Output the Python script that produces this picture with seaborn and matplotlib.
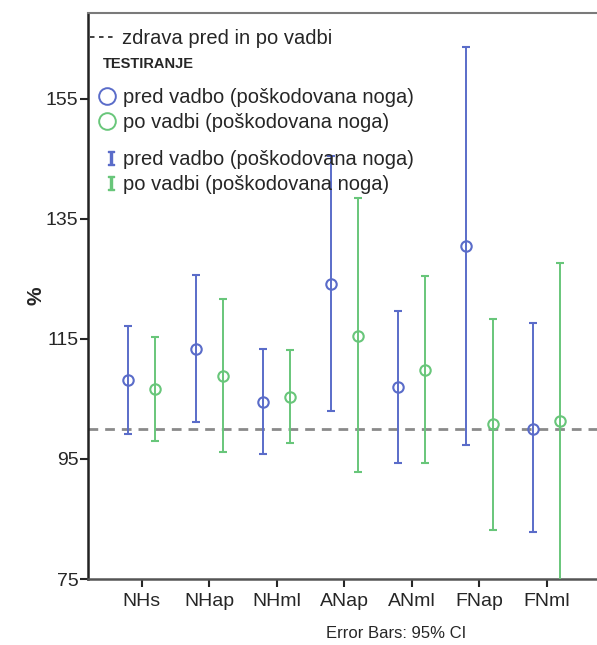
import numpy as np
import seaborn as sns
import matplotlib.pyplot as plt
from matplotlib.lines import Line2D

# means and 95% CI bounds
categories = ['NHs', 'NHap', 'NHml', 'ANap', 'ANml', 'FNap', 'FNml']

pred_mean = [108.2, 113.3, 104.5, 124.2, 107.0, 130.4, 100.0]
pred_low = [99.2, 101.1, 95.8, 103.0, 94.3, 97.4, 82.8]
pred_high = [117.2, 125.6, 113.3, 145.5, 119.7, 163.6, 117.6]

po_mean = [106.7, 108.8, 105.4, 115.5, 109.9, 100.8, 101.4]
po_low = [98.0, 96.2, 97.7, 92.8, 94.4, 83.2, 74.0]
po_high = [115.4, 121.6, 113.1, 138.4, 125.5, 118.3, 127.6]

healthy = 100.0

blue = '#5a6cc9'
green = '#68c67a'
txt = '#262626'

sns.set_style('ticks')
plt.rcParams['font.family'] = ['Liberation Sans', 'DejaVu Sans']
plt.rcParams['mathtext.fontset'] = 'dejavuserif'

fig = plt.figure(figsize=(5.97, 6.45), dpi=100)
ax = fig.add_axes([88 / 597, 1 - 579 / 645, 509 / 597, 566 / 645])

x = np.arange(len(categories))

# reference line for healthy leg
ax.axhline(healthy, color='#8a8a8a', lw=2, ls=(0, (3.5, 2.5)), zorder=1)

for off, mean, lo, hi, col in [(-0.2, pred_mean, pred_low, pred_high, blue),
                               (0.2, po_mean, po_low, po_high, green)]:
    mean = np.array(mean)
    err = [mean - np.array(lo), np.array(hi) - mean]
    ax.errorbar(x + off, mean, yerr=err, fmt='o', color=col, ecolor=col,
                mfc='none', mec=col, ms=7.5, mew=1.5, elinewidth=1.4,
                capsize=2.6, capthick=1.4, zorder=3)

ax.set_xlim(-0.795, 6.746)
ax.set_ylim(75, 169.3)
ax.set_yticks([75, 95, 115, 135, 155])
ax.set_xticks(x)
ax.set_xticklabels(categories)
ax.tick_params(axis='both', labelsize=14, colors=txt, length=6, width=1.5)
ax.tick_params(axis='y', pad=1)
ax.tick_params(axis='x', pad=4)
ax.set_ylabel('%', fontsize=15, fontweight='bold', color=txt, labelpad=0)

ax.spines['right'].set_visible(False)
ax.spines['left'].set_color('#222222')
ax.spines['left'].set_linewidth(1.8)
ax.spines['bottom'].set_color('#555555')
ax.spines['bottom'].set_linewidth(1.8)
ax.spines['top'].set_color('#7a7a7a')
ax.spines['top'].set_linewidth(1.5)

# legends
h1 = [Line2D([], [], color='#333333', lw=1.3, ls=(0, (2.5, 2.5)))]
leg1 = ax.legend(h1, ['zdrava pred in po vadbi'], loc='upper left',
                 bbox_to_anchor=(0.004, 0.971), frameon=False, fontsize=14.5,
                 handlelength=1.3, handletextpad=0.3, borderpad=0,
                 borderaxespad=0, labelcolor=txt)
ax.add_artist(leg1)

ax.text(0.0295, 0.91, 'TESTIRANJE', transform=ax.transAxes, fontsize=10.5,
        fontweight='bold', color=txt, ha='left', va='center')

h2 = [Line2D([], [], ls='none', marker='o', ms=12, mfc='none', mec=blue, mew=1.4),
      Line2D([], [], ls='none', marker='o', ms=12, mfc='none', mec=green, mew=1.4)]
leg2 = ax.legend(h2, ['pred vadbo (poškodovana noga)', 'po vadbi (poškodovana noga)'],
                 loc='upper left', bbox_to_anchor=(0.022, 0.868), frameon=False,
                 fontsize=14.5, handlelength=0.8, handletextpad=0.4,
                 labelspacing=0.31, borderpad=0, borderaxespad=0,
                 labelcolor=txt)
ax.add_artist(leg2)

h3 = [Line2D([], [], ls='none', marker=r'$\mathrm{I}$', ms=10, color=blue),
      Line2D([], [], ls='none', marker=r'$\mathrm{I}$', ms=10, color=green)]
ax.legend(h3, ['pred vadbo (poškodovana noga)', 'po vadbi (poškodovana noga)'],
          loc='upper left', bbox_to_anchor=(0.03, 0.758), frameon=False,
          fontsize=14.5, handlelength=0.8, handletextpad=0.2, labelspacing=0.31,
          borderpad=0, borderaxespad=0, labelcolor=txt)

fig.text(396 / 597, 1 - 634 / 645, 'Error Bars: 95% CI', fontsize=12,
         color=txt, ha='center', va='center')

fig.savefig('out.png', dpi=100)
